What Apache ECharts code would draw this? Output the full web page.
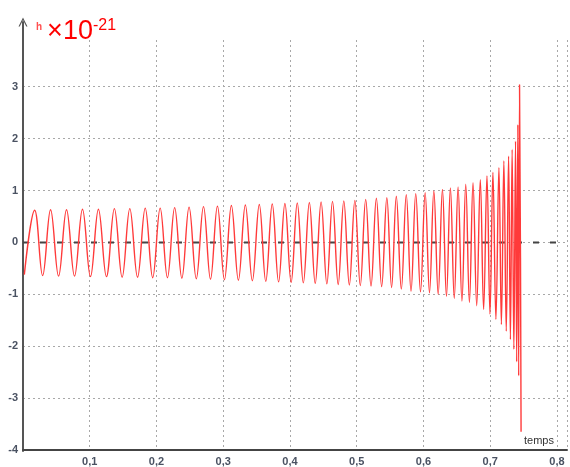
<!DOCTYPE html>
<html>
<head>
<meta charset="utf-8">
<script src="https://cdn.jsdelivr.net/npm/echarts@6/dist/echarts.min.js"></script>
<style>
  html, body { margin: 0; padding: 0; background: #fff; }
  #box { width: 570px; height: 467px; }
</style>
</head>
<body>
<div id="box"></div>
<script>
// crêtes de l'onde (temps en s, h en 1e-21)
const peakT = [0.0175, 0.0413, 0.0652, 0.0891, 0.1130, 0.1369, 0.1600, 0.1831, 0.2055, 0.2272,
  0.2488, 0.2704, 0.2913, 0.3122, 0.3331, 0.3540, 0.3734, 0.3924, 0.4109, 0.4290,
  0.4466, 0.4637, 0.4806, 0.4972, 0.5134, 0.5294, 0.5451, 0.5593, 0.5742, 0.5884,
  0.6025, 0.6155, 0.6284, 0.6403, 0.6518, 0.6633, 0.6742, 0.6851, 0.6951, 0.7040,
  0.7130, 0.7204, 0.7275, 0.7328, 0.7379, 0.7413, 0.7439];
const peakH = [0.62, 0.63, 0.63, 0.64, 0.64, 0.65, 0.65, 0.66, 0.66, 0.67,
  0.68, 0.69, 0.70, 0.71, 0.72, 0.73, 0.74, 0.75, 0.76, 0.77,
  0.78, 0.79, 0.80, 0.81, 0.83, 0.85, 0.86, 0.89, 0.92, 0.94,
  0.96, 0.99, 1.02, 1.05, 1.07, 1.12, 1.15, 1.21, 1.28, 1.35,
  1.44, 1.57, 1.66, 1.79, 1.95, 2.27, 3.04];
// creux
const troughT = [0.0020, 0.0294, 0.0533, 0.0772, 0.1011, 0.1250, 0.1485, 0.1716, 0.1943, 0.2164,
  0.2380, 0.2596, 0.2809, 0.3018, 0.3227, 0.3436, 0.3637, 0.3829, 0.4017, 0.4200,
  0.4378, 0.4552, 0.4722, 0.4889, 0.5053, 0.5214, 0.5373, 0.5522, 0.5668, 0.5813,
  0.5955, 0.6090, 0.6220, 0.6344, 0.6461, 0.6576, 0.6688, 0.6797, 0.6901, 0.6996,
  0.7085, 0.7167, 0.7240, 0.7302, 0.7354, 0.7396, 0.7426, 0.7462];
const troughH = [-0.62, -0.64, -0.65, -0.65, -0.66, -0.66, -0.67, -0.67, -0.68, -0.68,
  -0.69, -0.70, -0.71, -0.72, -0.73, -0.74, -0.75, -0.76, -0.77, -0.78,
  -0.79, -0.80, -0.81, -0.82, -0.83, -0.84, -0.85, -0.87, -0.90, -0.94,
  -0.95, -0.97, -1.00, -1.04, -1.08, -1.13, -1.16, -1.22, -1.29, -1.38,
  -1.48, -1.58, -1.71, -1.87, -2.06, -2.30, -2.57, -3.65];
const zeroT = [0, 0.8];
const xTicks = ["0,1", "0,2", "0,3", "0,4", "0,5", "0,6", "0,7", "0,8"];

var wave = [[troughT[0], troughH[0]]];
for (let i = 0; i < peakT.length; i++) {
  wave.push([peakT[i], peakH[i]]);
  wave.push([troughT[i + 1], troughH[i + 1]]);
}

var gridLine = { show: true, lineStyle: { color: "#a8a8a8", type: [2, 3], width: 1 } };
var labelFont = { fontFamily: "Liberation Sans", fontWeight: "bold", fontSize: 11, color: "#4a5262" };

var myChart = echarts.init(document.getElementById("box"));
let option = {
  animation: false,
  title: {
    text: "{h|h}{x|×10}{s|-21}",
    left: 31,
    top: 13,
    textStyle: {
      fontFamily: "Liberation Sans",
      fontWeight: "normal",
      rich: {
        h: { fontSize: 10, color: "#ff5050", verticalAlign: "top", padding: [4, 5, 0, 0], fontWeight: "bold" },
        x: { fontSize: 27, color: "#ff0000", fontWeight: "normal" },
        s: { fontSize: 16, color: "#ff0000", verticalAlign: "top", fontWeight: "normal" }
      }
    }
  },
  grid: [
    { left: 23, right: 0, top: 40, bottom: 16 },
    { left: 23, right: 0, top: 22, bottom: 16 }
  ],
  xAxis: [
    {
      type: "value",
      min: 0,
      max: 0.815,
      interval: 0.1,
      gridIndex: 0,
      axisLine: { show: true, onZero: false, lineStyle: { color: "#444", width: 2 } },
      axisTick: { show: false },
      axisLabel: Object.assign({
        margin: 6,
        formatter: function (v) {
          var k = Math.round(v * 10);
          if (k < 1 || k > 8 || Math.abs(v * 10 - k) > 0.01) return "";
          return xTicks[k - 1];
        }
      }, labelFont),
      splitLine: gridLine,
      name: "temps",
      nameLocation: "end",
      nameGap: -43,
      nameTextStyle: { fontFamily: "Liberation Sans", fontSize: 11, color: "#333", align: "left", verticalAlign: "bottom", padding: [0, 0, 4, 0] }
    },
    { type: "value", gridIndex: 1, show: false, min: 0, max: 1 }
  ],
  yAxis: [
    {
      type: "value",
      min: -4,
      max: 3.9,
      interval: 1,
      gridIndex: 0,
      axisLine: { show: false },
      axisTick: { show: false },
      axisLabel: Object.assign({
        margin: 5,
        formatter: function (v) { return v > 3.5 ? "" : String(v); }
      }, labelFont),
      splitLine: Object.assign({ showMinLine: false, showMaxLine: false }, gridLine)
    },
    {
      type: "value",
      gridIndex: 1,
      min: 0,
      max: 1,
      axisLine: {
        show: true,
        lineStyle: { color: "#555", width: 2 },
        symbol: ["none", "path://M0,10 L5,0 L10,10 L8.6,10 L5,2.8 L1.4,10 Z"],
        symbolSize: [10, 9],
        symbolOffset: [0, 0]
      },
      axisTick: { show: false },
      axisLabel: { show: false },
      splitLine: { show: false }
    }
  ],
  series: [
    {
      name: "zero",
      type: "line",
      xAxisIndex: 0,
      yAxisIndex: 0,
      data: zeroT.map(function (t) { return [t, 0]; }),
      symbol: "none",
      lineStyle: { color: "#444", width: 2, type: [6, 11] },
      z: 1
    },
    {
      name: "h",
      type: "line",
      xAxisIndex: 0,
      yAxisIndex: 0,
      data: wave,
      symbol: "none",
      smooth: 0.4,
      lineStyle: { color: "#ff3a3a", width: 1.4 },
      z: 2
    }
  ]
};
myChart.setOption(option);
</script>
</body>
</html>
